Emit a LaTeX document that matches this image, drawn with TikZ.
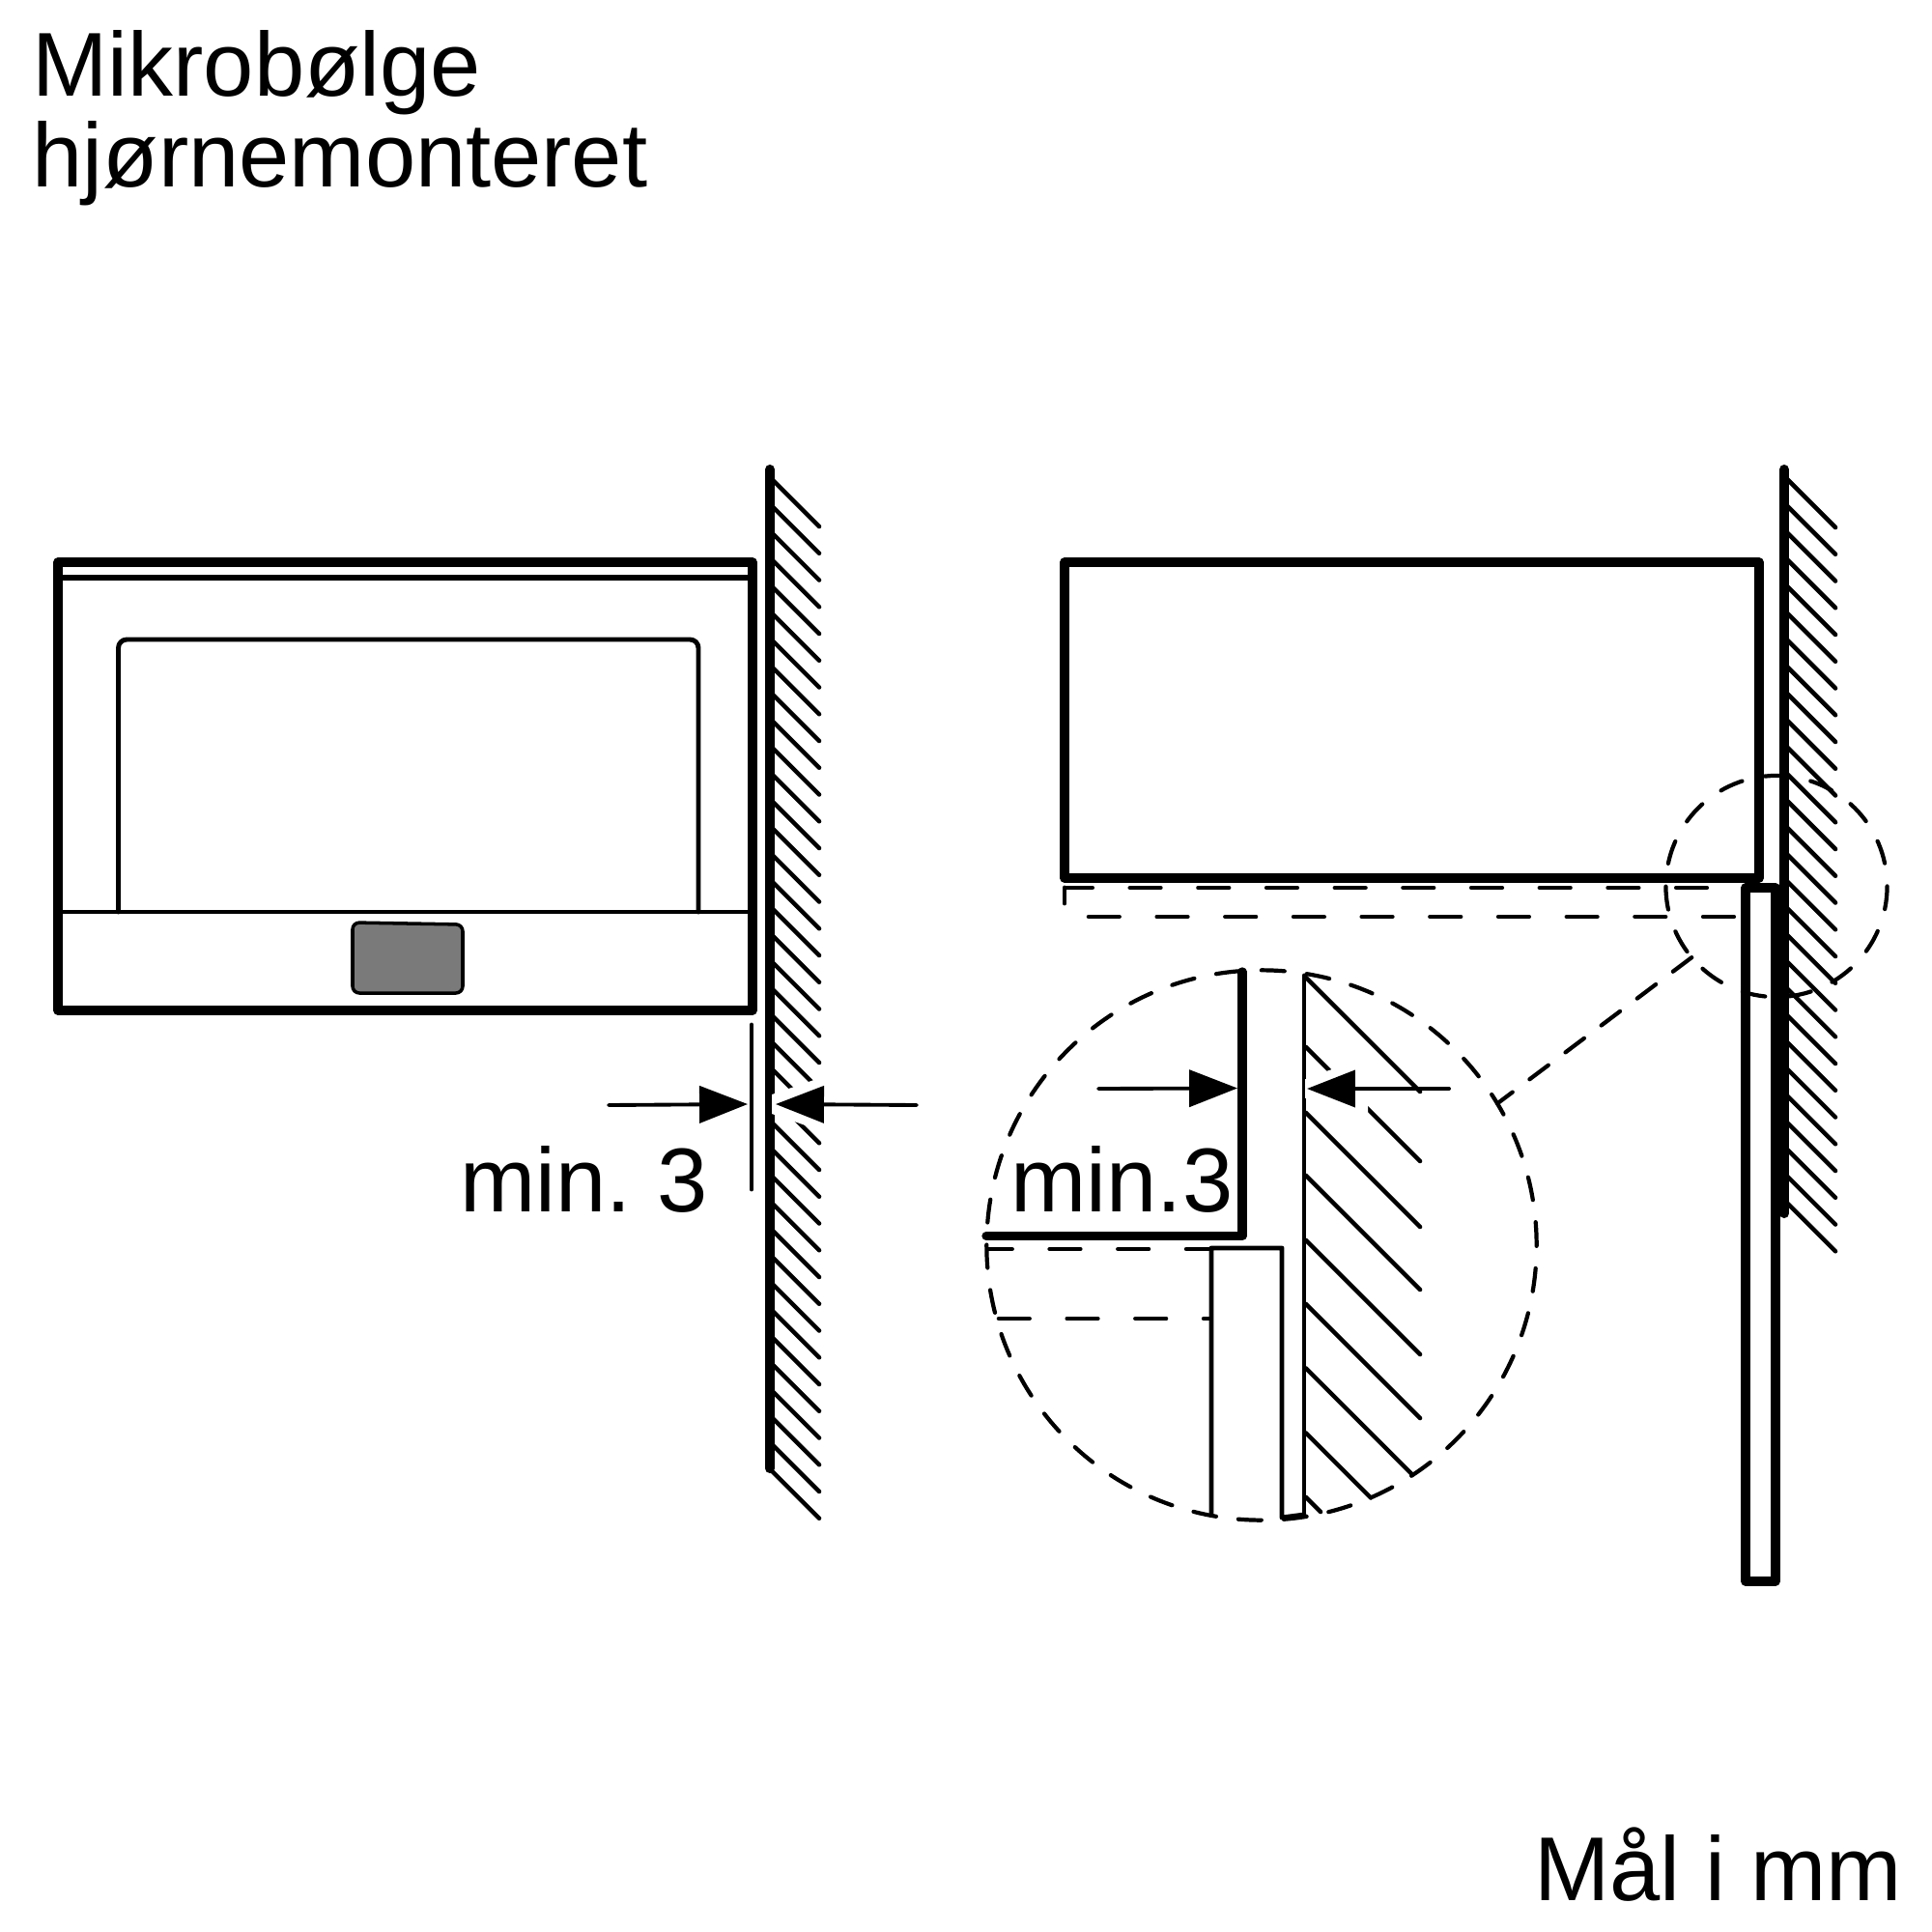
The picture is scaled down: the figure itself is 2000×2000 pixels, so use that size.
\documentclass[tikz,border=0pt]{standalone}
\usepackage{fontspec}
\setmainfont{Liberation Sans}
\usetikzlibrary{arrows.meta,shapes.geometric}
\tikzset{
    thickline/.style={line width=2.65pt, line join=round, line cap=round},
    thinline/.style={line width=1.4pt, line join=round, line cap=round},
    hatchline/.style={line width=1.3pt, line cap=round},
    dashline/.style={line width=1.3pt, line cap=round, dash pattern=on 9pt off 11.1pt},
    zoomcircle/.style={circle, draw, inner sep=0pt, outer sep=0pt, line width=1.2pt, line cap=round},
    dimline/.style={line width=1.1pt, line cap=round, -{Triangle[length=14.2pt,width=10.8pt]}},
    bigtext/.style={inner sep=0pt, font=\fontsize{26.7}{26.9}\selectfont\frenchspacing}
}
\begin{document}
\begin{tikzpicture}[x=0.01cm, y=-0.01cm]
    \useasboundingbox (0,0) rectangle (2000,2000);
    \fill[white] (0,0) rectangle (2000,2000);
    % Titles
    \node[bigtext, anchor=base west, align=left] (title) at (33,194) {Mikrobølge\\hjørnemonteret};
    \node[bigtext, anchor=base east] (units) at (1970,1967) {Mål i mm};
    % Left wall
    \foreach \i in {0,...,37}
        \draw[hatchline] (797,{494+27.75*\i}) -- ++(51,51);
    \draw[line width=2.9pt, line cap=round] (797,486) -- (797,1520);
    % Oven front
    \draw[thickline] (60,582) rectangle (779,1046);
    \draw[thinline, line width=1.6pt] (60,598) -- (779,598);
    \draw[thinline] (60,944) -- (779,944);
    \draw[thinline, rounded corners=2.5pt] (122.5,944) -- (122.5,662) -- (723,662) -- (723,944);
    \draw[line width=1pt, fill=black!52, rounded corners=2pt] (365,955) -- (479,957) -- (479,1028) -- (365,1028) -- cycle;
    % Left dimension
    \draw[thinline] (778,1061) -- (778,1231);
    \fill[white] (799,1133) -- (860,1112) -- (860,1174) -- (799,1153) -- cycle;
    \coordinate (leftA) at (630,1144);
    \coordinate (leftB) at (774,1143);
    \coordinate (leftC) at (949,1144);
    \coordinate (leftD) at (803,1143);
    \draw[dimline] (leftA) -- (leftB);
    \draw[dimline] (leftC) -- (leftD);
    \node[bigtext, anchor=base west] (minleft) at (476,1254) {min. 3};
    % Right wall
    \foreach \i in {0,...,27}
        \draw[hatchline] (1847,{493+27.75*\i}) -- ++(53,53);
    % Small circle and leader
    \node[zoomcircle, minimum size=2.29cm, dash pattern=on 6.83pt off 6.82pt, dash phase=6.8pt] (circsmall) at (1839,917.5) {};
    \node[zoomcircle, minimum size=5.69cm, dash pattern=on 6.8pt off 6.58pt] (circbig) at (1306,1289) {};
    \draw[line width=1.2pt, line cap=round, dash pattern=on 6.9pt off 6.3pt] (circsmall.220.6) -- (circbig.31);
    % Right unit, side view
    \draw[thickline] (1102,582) rectangle (1821,909);
    \draw[line width=2.9pt, line cap=round] (1847,486) -- (1847,1256);
    \draw[thickline] (1807,919) rectangle (1838,1637);
    \draw[dashline, dash phase=1.4pt] (1104,919) -- (1775,919);
    \draw[thinline] (1102,919) -- (1102,935);
    \draw[dashline] (1127,949) -- (1796,949);
    % Detail
    \foreach \ya/\len in {1012/118,1084/118,1152/118,1217/118,1284/118,1350/118,1416.5/110,1483.5/67,1550/15}
        \draw[hatchline] (1352,\ya) -- ++(\len,\len);
    \fill[white] (1350,1117) -- (1416,1094) -- (1416,1160) -- (1350,1137) -- cycle;
    \draw[thickline] (1286,1006) -- (1286,1279.5) -- (1021,1279.5);
    \draw[thinline] (1350,1010) -- (1350,1568);
    \fill[white] (1350.5,1117) rectangle (1353,1137);
    \draw[thinline] (1254,1566) -- (1254,1292) -- (1327,1292) -- (1327,1571) -- (1350,1568);
    \draw[dashline, dash phase=2pt] (1023,1293) -- (1251,1293);
    \draw[dashline] (1034,1365) -- (1251,1365);
    \coordinate (detA) at (1137,1127);
    \coordinate (detB) at (1281,1126.5);
    \coordinate (detC) at (1500,1127);
    \coordinate (detD) at (1353,1127);
    \draw[dimline] (detA) -- (detB);
    \draw[dimline] (detC) -- (detD);
    \node[bigtext, anchor=base west] (mindetail) at (1046,1254) {min.3};
\end{tikzpicture}
\end{document}
